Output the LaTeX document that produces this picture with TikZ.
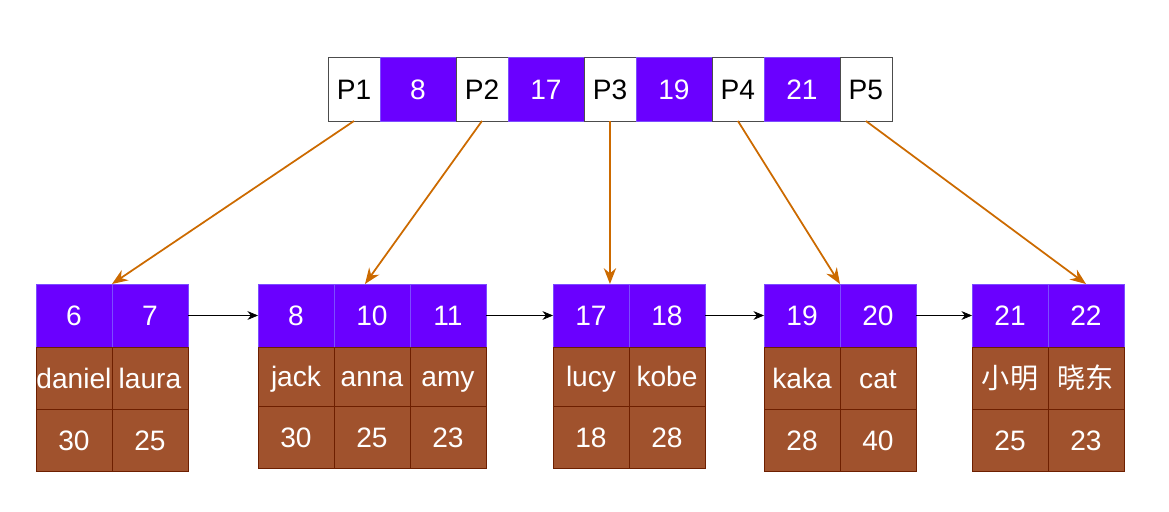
\documentclass[tikz,border=0pt]{standalone}
\usepackage{fontspec}
\setmainfont{Liberation Sans}
\newfontfamily\cjk{Noto Sans CJK SC}
\usetikzlibrary{positioning,arrows.meta}

\definecolor{keyfill}{HTML}{6A00FF}
\definecolor{keyline}{HTML}{7C4DFF}
\definecolor{valfill}{HTML}{A0522D}
\definecolor{valline}{HTML}{6D1F00}
\definecolor{linkcol}{HTML}{CC6A00}

\tikzset{
  cell/.style={draw, inner sep=0, outer sep=0, anchor=north west,
    font=\fontsize{16}{19}\selectfont, text height=11.5pt, text depth=0pt},
  ptr/.style={cell, fill=white, draw=black!70, text=black,
    minimum width=1.04cm, minimum height=1.28cm},
  key/.style={cell, fill=keyfill, draw=keyline, text=white,
    minimum width=1.52cm, minimum height=1.26cm},
  val/.style={cell, fill=valfill, draw=valline, text=white,
    minimum width=1.52cm, minimum height=1.24cm},
  down/.style={->, >={Stealth[length=9pt,width=7pt]}, linkcol, line width=1pt},
  next/.style={->, >={Stealth[length=6pt,width=5pt]}, black}
}

\begin{document}
\begin{tikzpicture}[x=0.02cm, y=-0.02cm]

    \useasboundingbox (0,0) rectangle (1169,511);

    % Root node
    \node[ptr] (p1) at (328,57) {P1};
    \node[key, right=0 of p1, minimum height=1.28cm] (r1) {8};
    \node[ptr, right=0 of r1] (p2) {P2};
    \node[key, right=0 of p2, minimum height=1.28cm] (r2) {17};
    \node[ptr, right=0 of r2] (p3) {P3};
    \node[key, right=0 of p3, minimum height=1.28cm] (r3) {19};
    \node[ptr, right=0 of r3] (p4) {P4};
    \node[key, right=0 of p4, minimum height=1.28cm] (r4) {21};
    \node[ptr, right=0 of r4] (p5) {P5};

    % Leaf 1
    \node[key] (l1k1) at (36,284) {6};
    \node[key, right=0 of l1k1] (l1k2) {7};
    \node[val, below=0 of l1k1] (l1n1) {daniel};
    \node[val, below=0 of l1k2] (l1n2) {laura};
    \node[val, below=0 of l1n1] (l1a1) {30};
    \node[val, below=0 of l1n2] (l1a2) {25};

    % Leaf 2
    \node[key] (l2k1) at (258,284) {8};
    \node[key, right=0 of l2k1] (l2k2) {10};
    \node[key, right=0 of l2k2] (l2k3) {11};
    \node[val, below=0 of l2k1, minimum height=1.18cm] (l2n1) {jack};
    \node[val, below=0 of l2k2, minimum height=1.18cm] (l2n2) {anna};
    \node[val, below=0 of l2k3, minimum height=1.18cm] (l2n3) {amy};
    \node[val, below=0 of l2n1] (l2a1) {30};
    \node[val, below=0 of l2n2] (l2a2) {25};
    \node[val, below=0 of l2n3] (l2a3) {23};

    % Leaf 3
    \node[key] (l3k1) at (553,284) {17};
    \node[key, right=0 of l3k1] (l3k2) {18};
    \node[val, below=0 of l3k1, minimum height=1.18cm] (l3n1) {lucy};
    \node[val, below=0 of l3k2, minimum height=1.18cm] (l3n2) {kobe};
    \node[val, below=0 of l3n1] (l3a1) {18};
    \node[val, below=0 of l3n2] (l3a2) {28};

    % Leaf 4
    \node[key] (l4k1) at (764,284) {19};
    \node[key, right=0 of l4k1] (l4k2) {20};
    \node[val, below=0 of l4k1] (l4n1) {kaka};
    \node[val, below=0 of l4k2] (l4n2) {cat};
    \node[val, below=0 of l4n1] (l4a1) {28};
    \node[val, below=0 of l4n2] (l4a2) {40};

    % Leaf 5
    \node[key] (l5k1) at (972,284) {21};
    \node[key, right=0 of l5k1] (l5k2) {22};
    \node[val, below=0 of l5k1] (l5n1) {{\cjk 小明}};
    \node[val, below=0 of l5k2] (l5n2) {{\cjk 晓东}};
    \node[val, below=0 of l5n1] (l5a1) {25};
    \node[val, below=0 of l5n2] (l5a2) {23};

    % Pointers down
    \draw[down] (p1.south) -- (l1k1.north east);
    \draw[down] (p2.south) -- ([xshift=-0.14cm]l2k2.north);
    \draw[down] (p3.south) -- (p3.south |- l3k1.north);
    \draw[down] (p4.south) -- (l4k1.north east);
    \draw[down] (p5.south) -- (l5k2.north);

    % Leaf links
    \draw[next] (l1k2.east) -- (l2k1.west);
    \draw[next] (l2k3.east) -- (l3k1.west);
    \draw[next] (l3k2.east) -- (l4k1.west);
    \draw[next] (l4k2.east) -- (l5k1.west);

\end{tikzpicture}
\end{document}
